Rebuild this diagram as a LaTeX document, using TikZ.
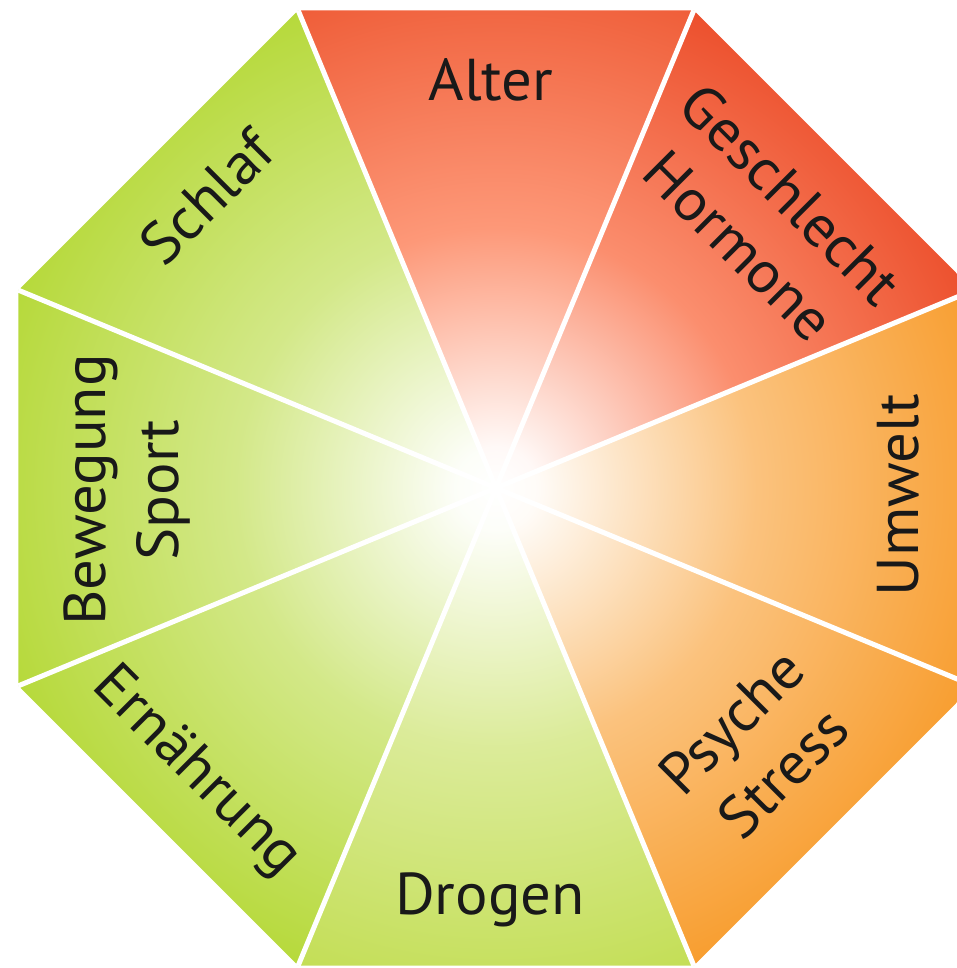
\documentclass[tikz,border=0pt]{standalone}
\usepackage{fontspec}
\setmainfont[FakeStretch=1.03]{PT Sans}
\usepackage{tikz}
\definecolor{rotA}{HTML}{EF5D38}
\definecolor{rotB}{HTML}{EC4F2C}
\definecolor{rotAm}{HTML}{FD9878}
\definecolor{rotBm}{HTML}{FB8E6E}
\definecolor{orangeA}{HTML}{F89D2E}
\definecolor{gruenA}{HTML}{B6D93A}
\definecolor{gruenB}{HTML}{C3DE55}
\colorlet{SC}{rotA}
\colorlet{SM}{rotAm}
\pgfdeclareradialshading[SC,SM]{secshade}{\pgfpoint{0bp}{0bp}}{color(0bp)=(white); color(2bp)=(SM!6!white); color(12.5bp)=(SM); color(25bp)=(SC); color(50bp)=(SC)}
\tikzset{
    SEC/.style 2 args ={path picture={\colorlet{SC}{#1}\colorlet{SM}{#2}\shade[shading=secshade] (O) circle (520);}},
    LB/.style ={font=\fontsize{29.5pt}{36.5pt}\selectfont, text=black!90, inner sep=0pt, text height=20.6pt, text depth=0pt},
    LB2/.style ={font=\fontsize{29.5pt}{36.5pt}\selectfont, text=black!90, inner sep=0pt, align=center},
    SP/.style ={white, line width=2.5pt}}

\begin{document}
\begin{tikzpicture}[x=0.5pt,y=0.5pt]
        \useasboundingbox (-496,-480) rectangle (461,488);
        \coordinate (O) at (0,0);
        \coordinate (P1) at (22.5:517);
        \coordinate (P2) at (67.5:517);
        \coordinate (P3) at (112.5:517);
        \coordinate (P4) at (157.5:517);
        \coordinate (P5) at (202.5:517);
        \coordinate (P6) at (247.5:517);
        \coordinate (P7) at (292.5:517);
        \coordinate (P8) at (337.5:517);
        % sectors
        \path[SEC={rotA}{rotAm}] (O) -- (P2) -- (P3) -- cycle;
        \path[SEC={rotB}{rotBm}] (O) -- (P1) -- (P2) -- cycle;
        \path[SEC={orangeA}{orangeA!62!white}] (O) -- (P8) -- (P1) -- cycle;
        \path[SEC={orangeA}{orangeA!62!white}] (O) -- (P7) -- (P8) -- cycle;
        \path[SEC={gruenB}{gruenB!60!white}] (O) -- (P6) -- (P7) -- cycle;
        \path[SEC={gruenA}{gruenA!60!white}] (O) -- (P5) -- (P6) -- cycle;
        \path[SEC={gruenA}{gruenA!60!white}] (O) -- (P4) -- (P5) -- cycle;
        \path[SEC={gruenA}{gruenA!60!white}] (O) -- (P3) -- (P4) -- cycle;
        % white separators
        \draw[SP] (O) -- (P1);
        \draw[SP] (O) -- (P2);
        \draw[SP] (O) -- (P3);
        \draw[SP] (O) -- (P4);
        \draw[SP] (O) -- (P5);
        \draw[SP] (O) -- (P6);
        \draw[SP] (O) -- (P7);
        \draw[SP] (O) -- (P8);
        % labels
        \node[LB] (1) at (-5,408) {Alter};
        \node[LB2,rotate=-45] (2) at (269,268) {Geschlecht\\Hormone};
        \node[LB,rotate=90] (3) at (402,-7) {Umwelt};
        \node[LB2,rotate=45] (4) at (261,-259) {Psyche\\Stress};
        \node[LB] (5) at (-6,-406) {Drogen};
        \node[LB,rotate=-45] (6) at (-296,-280) {Ernährung};
        \node[LB2,rotate=90] (7) at (-369,-2) {Bewegung\\Sport};
        \node[LB,rotate=45] (8) at (-289,291) {Schlaf};
    \end{tikzpicture}
\end{document}
